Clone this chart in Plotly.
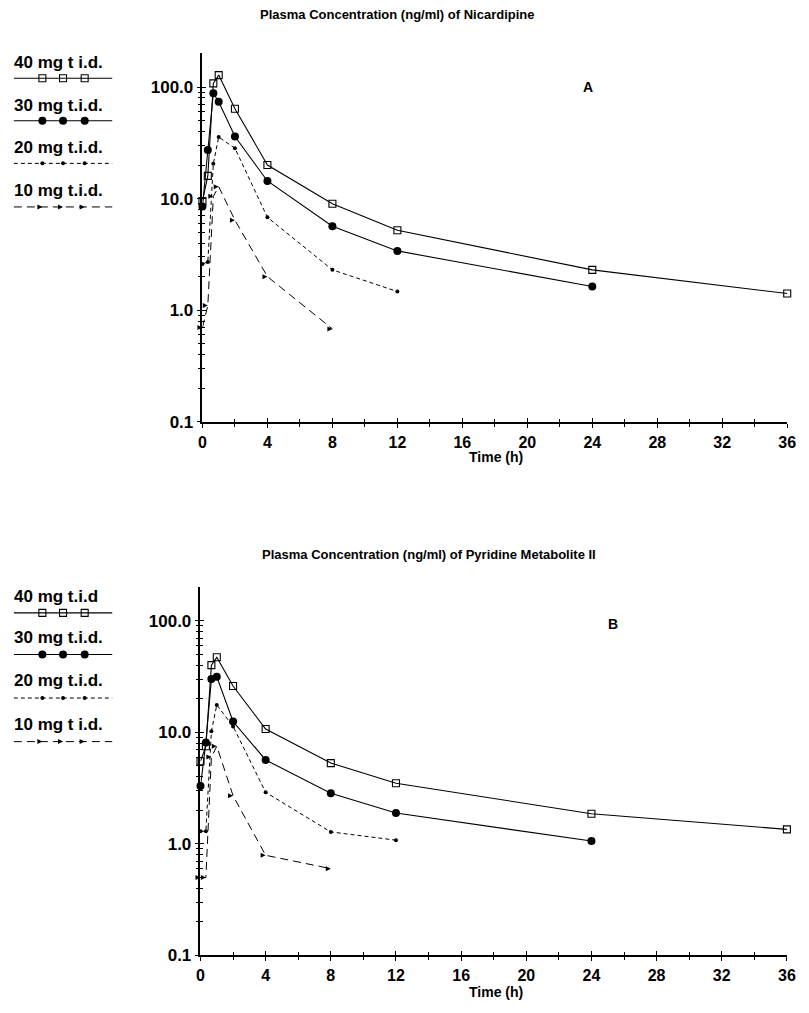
import plotly.graph_objects as go

# ---------------- data ----------------
time_h = [0, 0.33, 0.67, 1, 2, 4, 8, 12, 24, 36]
dose_labels_a = ["40 mg t i.d.", "30 mg t.i.d.", "20 mg t.i.d.", "10 mg t.i.d."]
dose_labels_b = ["40 mg t.i.d", "30 mg t.i.d.", "20 mg t.i.d.", "10 mg t i.d."]

# Panel A: Nicardipine (ng/ml)
nic_40 = [9.5, 16, 108, 128, 64, 20, 9.0, 5.2, 2.3, 1.41]
nic_30 = [8.5, 27.3, 88, 74, 36, 14.4, 5.65, 3.4, 1.63]
nic_20 = [2.6, 2.7, 20.5, 35.6, 28.3, 6.8, 2.3, 1.47]
nic_10 = [0.7, 1.1, 10.5, 12.8, 6.4, 2.0, 0.68]

# Panel B: Pyridine Metabolite II (ng/ml)
met_40 = [5.5, 7.5, 40, 47, 26, 10.7, 5.3, 3.5, 1.86, 1.35]
met_30 = [3.3, 8.1, 30, 31.5, 12.5, 5.65, 2.84, 1.89, 1.06]
met_20 = [1.3, 1.3, 10.2, 17.6, 11.3, 2.9, 1.28, 1.08]
met_10 = [0.5, 0.5, 6.0, 7.5, 2.7, 0.79, 0.6]

y_tickvals = [0.1, 1, 10, 100]
y_ticktext = ["0.1", "1.0", "10.0", "100.0"]
x_ticks = [0, 4, 8, 12, 16, 20, 24, 28, 32, 36]

# ---------------- styles ----------------
FONT = "Liberation Sans"
W, H = 809, 1013
styles = [
    dict(symbol="square-open", size=7, dash="solid", lw=1.1, mlw=1.1),
    dict(symbol="circle", size=8, dash="solid", lw=1.1, mlw=0),
    dict(symbol="circle", size=4, dash="4px,3px", lw=1.0, mlw=0),
    dict(symbol="arrow-right", size=5, dash="8px,5px", lw=1.0, mlw=0),
]

fig = go.Figure()

def add_series(xa, ya, series):
    for vals, st in zip(series, styles):
        fig.add_trace(go.Scatter(
            x=time_h[:len(vals)], y=vals, xaxis=xa, yaxis=ya,
            mode="lines+markers", cliponaxis=False, showlegend=False,
            line=dict(color="black", width=st["lw"], dash=st["dash"]),
            marker=dict(symbol=st["symbol"], size=st["size"], color="black",
                        line=dict(color="black", width=st["mlw"])),
        ))

add_series("x", "y", [nic_40, nic_30, nic_20, nic_10])
add_series("x2", "y2", [met_40, met_30, met_20, met_10])

# dummy traces so overlay (inside-tick) axes are drawn
for xa, ya in [("x3", "y3"), ("x4", "y4")]:
    fig.add_trace(go.Scatter(x=[1], y=[1], xaxis=xa, yaxis=ya, mode="markers",
                             marker=dict(opacity=0), hoverinfo="skip", showlegend=False))

# ---------------- legend drawn on a hidden pixel axis ----------------
def add_legend(labels, text_y, line_y):
    for lab, ty, ly, st in zip(labels, text_y, line_y, styles):
        fig.add_trace(go.Scatter(
            x=[10, 110], y=[ly, ly], xaxis="x5", yaxis="y5", mode="lines",
            line=dict(color="black", width=st["lw"], dash=st["dash"]),
            showlegend=False, hoverinfo="skip"))
        fig.add_trace(go.Scatter(
            x=[39, 60, 82], y=[ly] * 3, xaxis="x5", yaxis="y5", mode="markers",
            marker=dict(symbol=st["symbol"], size=st["size"], color="black",
                        line=dict(color="black", width=st["mlw"])),
            showlegend=False, hoverinfo="skip"))
        fig.add_annotation(x=8, y=ty, xref="x5", yref="y5", text="<b>%s</b>" % lab,
                           showarrow=False, xanchor="left", yanchor="middle",
                           font=dict(family=FONT, size=17, color="black"))

add_legend(dose_labels_a, [63, 107, 149, 192], [79, 122, 165, 209])
add_legend(dose_labels_b, [602, 644, 687, 732], [619, 661, 705, 749])

# ---------------- axes ----------------
def py(px):
    return 1 - px / H

minor_y = [k * 10 ** e for e in (-1, 0, 1) for k in range(2, 10)]

def xaxis_cfg(domain, inside=False, overlay=None, anchor=None):
    d = dict(domain=domain, range=[0, 36], showgrid=False, zeroline=False,
             showline=not inside, linecolor="black", linewidth=1.5,
             tickmode="array", tickvals=x_ticks,
             ticks="inside" if inside else "outside", ticklen=4, tickwidth=1.2, tickcolor="black",
             showticklabels=not inside, ticklabelstandoff=1,
             tickfont=dict(family=FONT, size=16, color="black", weight="bold"),
             minor=dict(tickmode="linear", tick0=0, dtick=2,
                        ticks="inside" if inside else "outside",
                        ticklen=3, tickwidth=1, tickcolor="black"),
             anchor=anchor, fixedrange=True)
    if overlay:
        d["overlaying"] = overlay
    return d

def yaxis_cfg(domain, inside=False, overlay=None, anchor=None):
    d = dict(domain=domain, type="log", range=[-1, 2.301], showgrid=False, zeroline=False,
             showline=not inside, linecolor="black", linewidth=1.5,
             tickmode="array", tickvals=y_tickvals, ticktext=y_ticktext,
             ticks="inside" if inside else "outside", ticklen=4, tickwidth=1.2, tickcolor="black",
             showticklabels=not inside,
             tickfont=dict(family=FONT, size=17, color="black", weight="bold"),
             minor=dict(tickmode="array", tickvals=minor_y,
                        ticks="inside" if inside else "outside",
                        ticklen=3, tickwidth=1, tickcolor="black"),
             anchor=anchor, fixedrange=True)
    if overlay:
        d["overlaying"] = overlay
    return d

xa_dom = [201.7 / W, 796 / W]
xb_dom = [199.7 / W, 795.7 / W]
ya_dom = [py(426), py(54)]
yb_dom = [py(965), py(593)]

fig.update_layout(
    width=W, height=H,
    margin=dict(l=0, r=0, t=0, b=0),
    paper_bgcolor="white", plot_bgcolor="rgba(0,0,0,0)",
    showlegend=False,
    xaxis=xaxis_cfg(xa_dom, anchor="y"),
    yaxis=yaxis_cfg(ya_dom, anchor="x"),
    xaxis2=xaxis_cfg(xb_dom, anchor="y2"),
    yaxis2=yaxis_cfg(yb_dom, anchor="x2"),
    xaxis3=xaxis_cfg(xa_dom, inside=True, overlay="x", anchor="y3"),
    yaxis3=yaxis_cfg(ya_dom, inside=True, overlay="y", anchor="x3"),
    xaxis4=xaxis_cfg(xb_dom, inside=True, overlay="x2", anchor="y4"),
    yaxis4=yaxis_cfg(yb_dom, inside=True, overlay="y2", anchor="x4"),
    xaxis5=dict(domain=[0, 150 / W], range=[0, 150], visible=False, fixedrange=True, anchor="y5"),
    yaxis5=dict(domain=[0, 1], range=[H, 0], visible=False, fixedrange=True, anchor="x5"),
)

# ---------------- text ----------------
def txt(x, y, s, size):
    fig.add_annotation(x=x / W, y=py(y), xref="paper", yref="paper", text="<b>%s</b>" % s,
                       showarrow=False, xanchor="center", yanchor="middle",
                       font=dict(family=FONT, size=size, color="black"))

txt(399, 15, "Plasma Concentration (ng/ml) of Nicardipine", 13)
txt(432, 560, "Plasma Concentration (ng/ml) of Pyridine Metabolite II", 13)
txt(500, 462, "Time (h)", 14)
txt(500, 1002, "Time (h)", 14)
txt(594, 88, "A", 14)
txt(619, 630, "B", 14)

fig.write_html("out.html")
